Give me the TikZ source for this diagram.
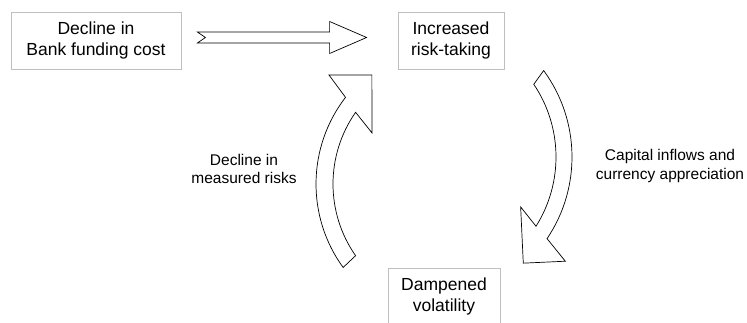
\documentclass[tikz,border=0pt]{standalone}
\usepackage{fontspec}
\setmainfont{Liberation Sans}
\usepackage{tikz}
\usetikzlibrary{calc}
\newcommand{\boxfont}{\fontsize{17.5}{21.5}\selectfont}
\newcommand{\labfont}{\fontsize{15.5}{18.6}\selectfont}

\begin{document}
\begin{tikzpicture}[x=1pt, y=1pt,
  stage/.style={draw=black!25, line width=.8pt, align=center, font=\boxfont, minimum height=57pt, inner sep=0pt},
  blockarrow/.style={draw=black, line width=.7pt, fill=white, line join=miter},
  cause/.style={align=center, font=\labfont}]
\useasboundingbox (0,0) rectangle (747,323);
\coordinate (F) at (96,282.5);
\coordinate (R) at (451,282.5);
\coordinate (V) at (444,26.5);
\coordinate (upc) at (458,139);
\coordinate (downc) at (426,166);
\node at (F) [name=fund, stage, minimum width=170pt] {Decline in\\Bank funding cost};
\node at (R) [name=risk, stage, minimum width=106pt] {Increased\\risk-taking};
\node at (V) [name=vol, stage, minimum width=112pt] {Dampened\\volatility};
% straight arrow, notched tail
\coordinate (tail) at ($(fund.east)+(16,3)$);
\coordinate (tip) at ($(risk.west)+(-31,3)$);
\draw [blockarrow] ($(tail)+(0,5.5)$) -- ($(tip)+(-37,5.5)$) -- ($(tip)+(-37,16)$) -- (tip) -- ($(tip)+(-37,-16)$) -- ($(tip)+(-37,-5.5)$) -- ($(tail)+(0,-5.5)$) -- ($(tail)+(8,0)$) -- cycle;
% bent arrow going up
\draw [blockarrow] ($(upc)+(216:142)$) arc [start angle=216, end angle=142.4, radius=142] -- ($(upc)+(139.8:169)$) -- ($(upc)+(128.3:139)$) -- ($(upc)+(149.3:100)$) -- ($(upc)+(145:125)$) arc [start angle=145, end angle=215, radius=125] -- cycle;
% bent arrow going down
\draw [blockarrow] ($(downc)+(36.3:146)$) arc [start angle=36.3, end angle=-34, radius=146] -- ($(downc)+(-36.8:174)$) -- ($(downc)+(-47.5:144)$) -- ($(downc)+(-27.8:107)$) -- ($(downc)+(-32.2:130)$) arc [start angle=-32.2, end angle=34, radius=130] -- cycle;
\node at (244,154) [name=risks, cause] {Decline in\\measured risks};
\node at (670,157) [name=flows, cause] {Capital inflows and\\currency appreciation};
\end{tikzpicture}
\end{document}
